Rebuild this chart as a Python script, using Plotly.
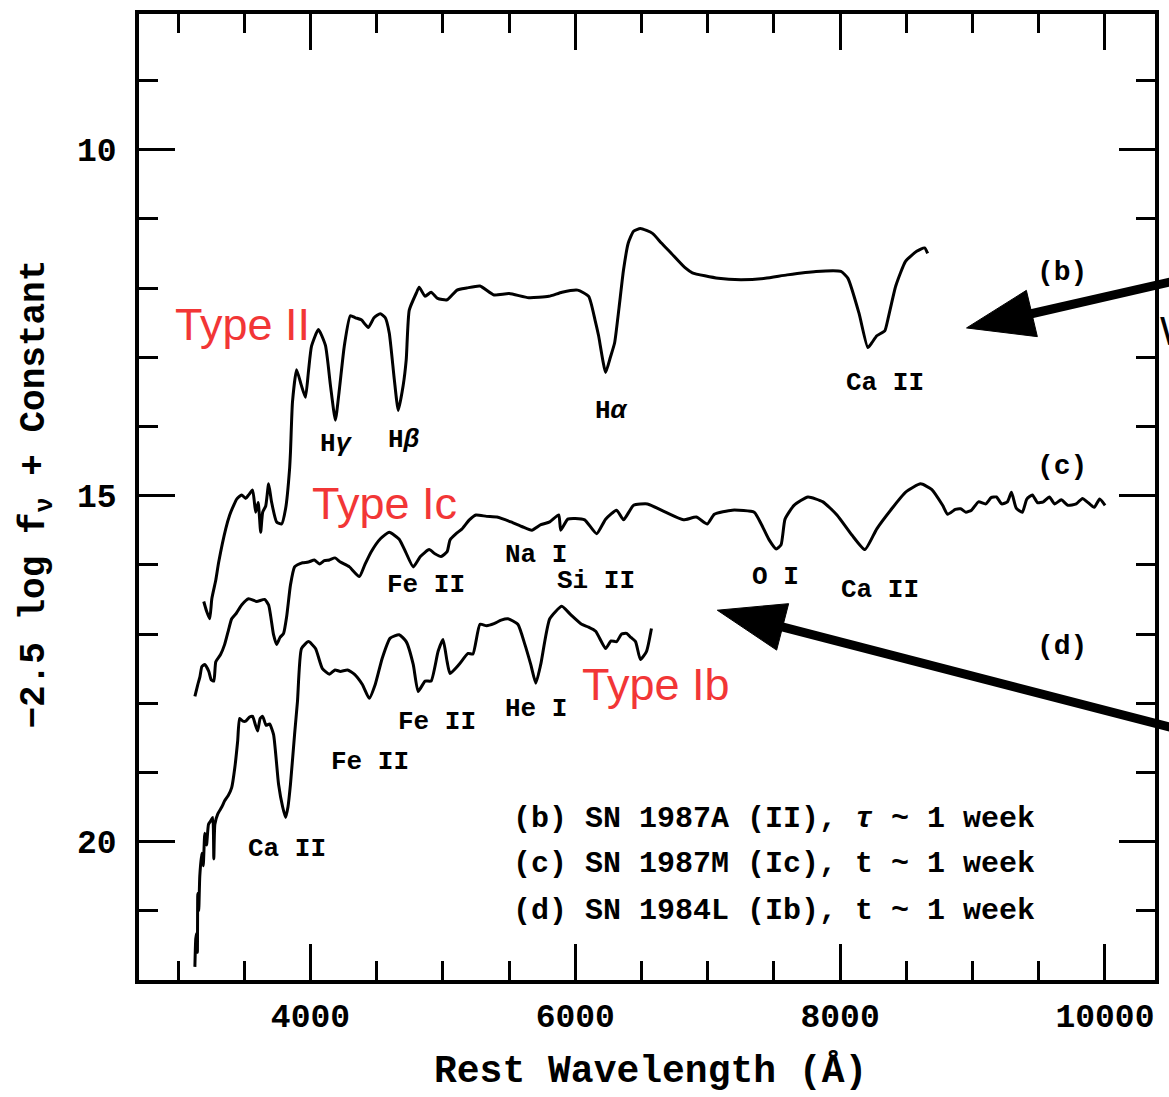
import plotly.graph_objects as go

# ---- spectra (rest wavelength in Angstrom, -2.5 log f_nu + constant) ----
# (b) SN 1987A, Type II
b_wave = [3194, 3217, 3239, 3255, 3285, 3307, 3360, 3390, 3420, 3443, 3480, 3511, 3533, 3563,
          3586, 3605, 3624, 3639, 3662, 3684, 3706, 3744, 3782, 3812, 3842, 3849, 3864, 3895,
          3930, 3962, 3985, 4008, 4060, 4113, 4151, 4188, 4218, 4256, 4301, 4340, 4384, 4437,
          4480, 4527, 4565, 4595, 4633, 4663, 4700, 4723, 4746, 4800, 4821, 4866, 4911, 4960,
          5032, 5107, 5180, 5280, 5386, 5500, 5649, 5800, 5900, 6018, 6101, 6150, 6176, 6229,
          6265, 6297, 6330, 6364, 6400, 6440, 6492, 6583, 6650, 6726, 6831, 6884, 7080, 7250,
          7434, 7600, 7818, 8006, 8059, 8142, 8209, 8240, 8277, 8337, 8360, 8420, 8495, 8578,
          8638, 8661]
b_mag = [16.53, 16.68, 16.78, 16.49, 16.22, 15.96, 15.48, 15.28, 15.14, 15.05, 14.99, 15.04, 14.99, 14.92,
         15.24, 15.10, 15.53, 15.24, 15.15, 14.83, 15.09, 15.38, 15.41, 15.19, 14.62, 14.37, 13.65, 13.18,
         13.40, 13.58, 13.20, 12.84, 12.60, 12.83, 13.41, 13.91, 13.47, 12.83, 12.40, 12.43, 12.46, 12.57,
         12.43, 12.37, 12.43, 12.65, 13.32, 13.77, 13.41, 13.04, 12.32, 12.07, 11.99, 12.12, 12.06, 12.15,
         12.17, 12.03, 12.00, 11.97, 12.10, 12.08, 12.14, 12.12, 12.06, 12.03, 12.12, 12.47, 12.69, 13.22,
         13.00, 12.79, 12.29, 11.74, 11.35, 11.18, 11.14, 11.21, 11.35, 11.50, 11.71, 11.78, 11.86, 11.88,
         11.86, 11.81, 11.76, 11.76, 11.86, 12.36, 12.86, 12.79, 12.69, 12.62, 12.46, 11.97, 11.61, 11.47,
         11.42, 11.50]

# (c) SN 1987M, Type Ic
c_wave = [3127, 3149, 3165, 3180, 3202, 3232, 3250, 3270, 3285, 3320, 3352, 3380, 3405, 3440,
          3480, 3533, 3593, 3654, 3684, 3721, 3744, 3770, 3797, 3820, 3849, 3880, 3902, 3940,
          3985, 4030, 4068, 4105, 4143, 4185, 4226, 4294, 4369, 4410, 4459, 4530, 4595, 4670,
          4720, 4776, 4830, 4896, 4940, 4986, 5032, 5054, 5100, 5145, 5200, 5250, 5330, 5408,
          5514, 5600, 5672, 5740, 5807, 5875, 5890, 5943, 6000, 6071, 6161, 6229, 6312, 6364,
          6440, 6545, 6681, 6816, 6914, 6997, 7050, 7185, 7351, 7404, 7464, 7517, 7554, 7584,
          7652, 7757, 7870, 7976, 8089, 8187, 8277, 8390, 8495, 8608, 8691, 8774, 8812, 8870,
          8910, 8950, 8992, 9045, 9100, 9140, 9181, 9220, 9263, 9294, 9330, 9376, 9410, 9452,
          9490, 9535, 9580, 9620, 9670, 9720, 9783, 9830, 9866, 9919, 9960, 10001]
c_mag = [17.90, 17.73, 17.62, 17.47, 17.44, 17.54, 17.66, 17.68, 17.40, 17.30, 17.15, 16.95, 16.78, 16.70,
         16.58, 16.49, 16.53, 16.50, 16.58, 17.01, 17.15, 17.05, 16.99, 16.75, 16.29, 16.03, 16.00, 15.97,
         15.96, 15.93, 15.99, 15.94, 15.93, 15.90, 15.96, 16.03, 16.17, 16.00, 15.81, 15.62, 15.53, 15.63,
         15.82, 16.03, 15.88, 15.78, 15.84, 15.88, 15.81, 15.64, 15.55, 15.48, 15.35, 15.28, 15.30, 15.31,
         15.38, 15.45, 15.50, 15.42, 15.38, 15.28, 15.50, 15.34, 15.33, 15.35, 15.55, 15.34, 15.21, 15.35,
         15.14, 15.12, 15.24, 15.35, 15.31, 15.41, 15.27, 15.21, 15.24, 15.41, 15.64, 15.77, 15.71, 15.34,
         15.14, 15.02, 15.09, 15.28, 15.57, 15.78, 15.48, 15.19, 14.95, 14.83, 14.91, 15.14, 15.27, 15.20,
         15.19, 15.24, 15.21, 15.09, 15.12, 15.03, 15.02, 15.12, 15.09, 14.95, 15.18, 15.24, 15.05, 14.99,
         15.10, 15.09, 15.02, 15.12, 15.06, 15.14, 15.12, 15.04, 15.09, 15.17, 15.05, 15.14]

# (d) SN 1984L, Type Ib
d_wave = [3127, 3134, 3142, 3146, 3149, 3156, 3164, 3179, 3190, 3202, 3215, 3230, 3247, 3262,
          3270, 3278, 3300, 3330, 3352, 3380, 3405, 3428, 3450, 3465, 3490, 3511, 3540, 3563,
          3585, 3601, 3620, 3639, 3665, 3691, 3721, 3759, 3790, 3812, 3830, 3849, 3880, 3902,
          3932, 3985, 4038, 4090, 4143, 4185, 4226, 4280, 4331, 4392, 4444, 4489, 4542, 4602,
          4670, 4723, 4776, 4813, 4866, 4911, 4964, 5001, 5032, 5054, 5122, 5190, 5227, 5280,
          5330, 5386, 5440, 5491, 5566, 5619, 5665, 5702, 5739, 5807, 5898, 5965, 6048, 6100,
          6154, 6229, 6270, 6312, 6350, 6387, 6420, 6455, 6492, 6538, 6575]
d_mag = [21.81, 21.40, 21.32, 21.60, 20.75, 21.00, 20.50, 20.17, 20.35, 19.88, 20.05, 19.75, 19.70, 19.65,
         20.25, 19.75, 19.60, 19.50, 19.41, 19.33, 19.22, 18.94, 18.55, 18.22, 18.26, 18.26, 18.20, 18.19,
         18.32, 18.40, 18.22, 18.19, 18.32, 18.30, 18.45, 19.17, 19.50, 19.65, 19.50, 19.17, 18.45, 17.97,
         17.21, 17.11, 17.21, 17.50, 17.58, 17.52, 17.54, 17.52, 17.58, 17.73, 17.93, 17.73, 17.35, 17.06,
         17.01, 17.11, 17.44, 17.83, 17.68, 17.68, 17.25, 17.08, 17.40, 17.57, 17.44, 17.28, 17.29, 16.86,
         16.88, 16.85, 16.80, 16.78, 16.86, 17.15, 17.45, 17.71, 17.44, 16.78, 16.60, 16.72, 16.86, 16.90,
         16.96, 17.21, 17.10, 17.11, 17.00, 16.99, 17.05, 17.11, 17.37, 17.25, 16.92]

# ---- line identifications: (text, wavelength, magnitude) ----
line_labels = [
    ("H<i>γ</i>", 4196, 14.26), ("H<i>β</i>", 4708, 14.19), ("H<i>α</i>", 6274, 13.77),
    ("Ca II", 8337, 13.37),
    ("Na I", 5702, 15.86), ("Si II", 6154, 16.24), ("Fe II", 4873, 16.29),
    ("O I", 7509, 16.17), ("Ca II", 8300, 16.36),
    ("Fe II", 4956, 18.27), ("He I", 5702, 18.09), ("Fe II", 4452, 18.85),
    ("Ca II", 3819, 20.10),
]
tag_labels = [("(b)", 9678, 11.78), ("(c)", 9678, 14.58), ("(d)", 9678, 17.18)]
key_lines = [
    ("(b) SN 1987A (II), <i>τ</i> ~ 1 week", 19.68),
    ("(c) SN 1987M (Ic), t ~ 1 week", 20.33),
    ("(d) SN 1984L (Ib), t ~ 1 week", 21.01),
]
key_left = 5515
type_labels = [("Type II", 3488, 12.53), ("Type Ic", 4557, 15.12), ("Type Ib", 6613, 17.73)]

X_RANGE = [2705, 10378]
Y_RANGE = [22.0, 8.04]
MONO = "Liberation Mono"
INK = "black"
RED = "#f23636"

fig = go.Figure()
for wave, mag in [(b_wave, b_mag), (c_wave, c_mag), (d_wave, d_mag)]:
    fig.add_trace(go.Scatter(x=wave, y=mag, mode="lines",
                             line=dict(color=INK, width=3, shape="spline", smoothing=0.5),
                             showlegend=False, hoverinfo="skip"))
# empty trace that creates the mirrored top/right tick axes
fig.add_trace(go.Scatter(x=[], y=[], xaxis="x2", yaxis="y2", showlegend=False))

tickfont = dict(family=MONO, size=33, color=INK, weight="bold")
common = dict(showgrid=False, zeroline=False, ticks="inside", tickwidth=3,
              tickcolor=INK, ticklen=36)

fig.update_layout(
    width=1169, height=1097,
    margin=dict(l=139, r=11, t=10, b=117),
    paper_bgcolor="white", plot_bgcolor="white",
    xaxis=dict(range=X_RANGE, tickmode="linear", tick0=0, dtick=2000, tickformat="d",
               showline=True, linewidth=3.5, linecolor=INK, mirror=True,
               tickfont=tickfont, ticklabelstandoff=4,
               minor=dict(ticks="inside", dtick=500, tick0=0, ticklen=19,
                          tickwidth=3, tickcolor=INK, showgrid=False),
               **common),
    yaxis=dict(range=Y_RANGE, tickmode="linear", tick0=0, dtick=5, tickformat="d",
               showline=True, linewidth=3.5, linecolor=INK, mirror=True,
               tickfont=tickfont, ticklabelstandoff=12,
               minor=dict(ticks="inside", dtick=1, tick0=0, ticklen=19,
                          tickwidth=3, tickcolor=INK, showgrid=False),
               **common),
    xaxis2=dict(range=X_RANGE, overlaying="x", side="top", anchor="y2",
                tickmode="linear", tick0=0, dtick=2000, showticklabels=False,
                showline=False,
                minor=dict(ticks="inside", dtick=500, tick0=0, ticklen=19,
                           tickwidth=3, tickcolor=INK, showgrid=False),
                **common),
    yaxis2=dict(range=Y_RANGE, overlaying="y", side="right", anchor="x2",
                tickmode="linear", tick0=0, dtick=5, showticklabels=False,
                showline=False,
                minor=dict(ticks="inside", dtick=1, tick0=0, ticklen=19,
                           tickwidth=3, tickcolor=INK, showgrid=False),
                **common),
)

annotations = []
for text, x, y in line_labels:
    annotations.append(dict(x=x, y=y, xref="x", yref="y", text=text, showarrow=False,
                            font=dict(family=MONO, size=26, color=INK, weight="bold")))
for text, x, y in tag_labels:
    annotations.append(dict(x=x, y=y, xref="x", yref="y", text=text, showarrow=False,
                            font=dict(family=MONO, size=28, color=INK, weight="bold")))
for text, y in key_lines:
    annotations.append(dict(x=key_left, y=y, xref="x", yref="y", text=text, showarrow=False,
                            xanchor="left", yanchor="middle",
                            font=dict(family=MONO, size=30, color=INK, weight="bold")))
for text, x, y in type_labels:
    annotations.append(dict(x=x, y=y, xref="x", yref="y", text=text, showarrow=False,
                            font=dict(family="Liberation Sans", size=45, color=RED)))

# axis titles
annotations.append(dict(x=0.503, y=-0.095, xref="paper", yref="paper",
                        xanchor="center", yanchor="middle",
                        text="Rest Wavelength (Å)", showarrow=False,
                        font=dict(family=MONO, size=38, color=INK, weight="bold")))
annotations.append(dict(x=-0.100, y=0.503, xref="paper", yref="paper", textangle=-90,
                        xanchor="center", yanchor="middle",
                        text="−2.5 log f<sub>ν</sub> + Constant", showarrow=False,
                        font=dict(family=MONO, size=36, color=INK, weight="bold")))
# lettering running off the right edge
annotations.append(dict(x=1.003, y=0.672, xref="paper", yref="paper",
                        xanchor="left", yanchor="middle",
                        text="W", showarrow=False,
                        font=dict(family="Liberation Sans", size=40, color=INK)))
fig.update_layout(annotations=annotations)

# two heavy pointer arrows coming in from the right
shapes = [
    dict(type="line", xref="paper", yref="paper", x0=0.8783, y0=0.6897, x1=1.0412, y1=0.7289,
         line=dict(color=INK, width=9)),
    dict(type="path", xref="paper", yref="paper",
         path="M 0.8145,0.6750 L 0.8842,0.6660 L 0.8734,0.7139 Z",
         fillcolor=INK, line=dict(color=INK, width=1)),
    dict(type="line", xref="paper", yref="paper", x0=0.6330, y0=0.3655, x1=1.0412, y1=0.2546,
         line=dict(color=INK, width=9)),
    dict(type="path", xref="paper", yref="paper",
         path="M 0.5692,0.3828 L 0.6276,0.3415 L 0.6394,0.3896 Z",
         fillcolor=INK, line=dict(color=INK, width=1)),
]
fig.update_layout(shapes=shapes)

fig.write_html("out.html")
